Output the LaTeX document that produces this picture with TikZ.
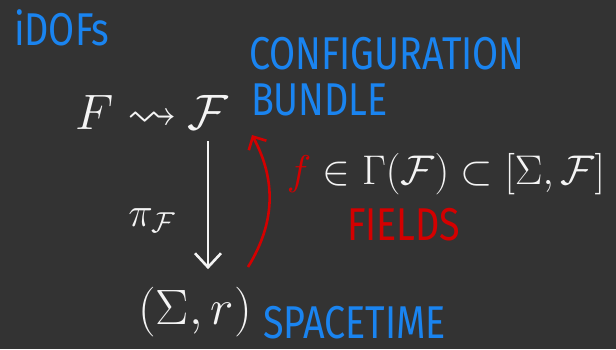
\documentclass[tikz,border=0pt]{standalone}
\usepackage{amsmath}
\usepackage{amssymb}
\usepackage{fontspec}
\usetikzlibrary{positioning, arrows.meta, calc}
\newfontfamily\notehand[FakeStretch=0.82]{Fira Sans}
\definecolor{Note_Board}{HTML}{333333}
\definecolor{Note_Blue}{HTML}{1A84F0}
\definecolor{Note_Red}{HTML}{D40000}
\definecolor{Note_Chalk}{HTML}{F4F4F4}

\begin{document}
\begin{tikzpicture}[
  x=0.5pt, y=-0.5pt,
  every node/.style={inner sep=0pt, outer sep=0pt, text=Note_Chalk},
  mnode/.style={font=\fontsize{20.74}{24}\selectfont},
  bignode/.style={font=\fontsize{24.88}{28}\selectfont},
  bnote/.style={font=\notehand\fontsize{23}{25}\selectfont, text=Note_Blue, anchor=west},
  rnote/.style={bnote, text=Note_Red},
  proj/.style={-{Straight Barb[length=7pt, width=13pt]}, line width=1.3pt, Note_Chalk},
  sect/.style={-{Straight Barb[length=5pt, width=10pt]}, line width=1.3pt, Note_Red}
]
  % board
  \fill[Note_Board] (0,0) rectangle (616,349);

  % Top: bundle
  \node[bnote] (idofs) at (14,28) {iDOFs};
  \node[bignode] (total) at (208,112) {$\mathcal{F}$};
  \node[bignode, left=5pt of total] (fibre) {$F \rightsquigarrow$};
  \node[bnote] (conf) at (249,54) {CONFIGURATION};
  \node[bnote] (bund) at (251,100) {BUNDLE};

  % Bottom: base
  \node[bignode] (base) at (195,312) {$(\Sigma, r)$};
  \node[bnote] (spt) at (263,323) {SPACETIME};

  % Right: sections
  \node[mnode] (fields) at (446,174) {$\textcolor{Note_Red}{f} \in \Gamma(\mathcal{F}) \subset [\Sigma, \mathcal{F}]$};
  \node[rnote] (flab) at (347,225) {FIELDS};

  % Projection
  \draw[proj] ([yshift=-6pt]total.south) -- ([yshift=9pt]total.south |- base.north)
    node[pos=0.62, left=16pt, mnode] (projlab) {$\pi_{\mathcal{F}}$};
  % Section
  \coordinate (sec-from) at (248,267);
  \coordinate (sec-to) at (252,135);
  \draw[sect] (sec-from) to[bend right=30] (sec-to);
\end{tikzpicture}
\end{document}
